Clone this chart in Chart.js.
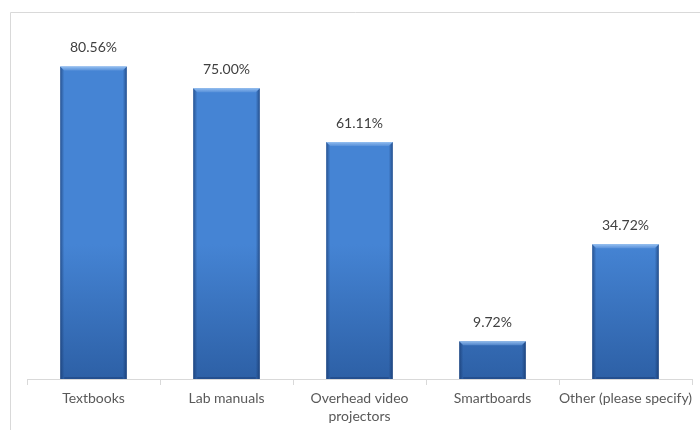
<!DOCTYPE html>
<html>
<head>
<meta charset="utf-8">
<script src="https://cdn.jsdelivr.net/npm/chart.js@4"></script>
<style>
  html, body { margin: 0; padding: 0; background: #ffffff; }
  #wrap { width: 700px; height: 430px; position: relative; }
</style>
</head>
<body>
<div id="wrap"><canvas id="c"></canvas></div>
<script>
const categories = ["Textbooks", "Lab manuals", ["Overhead video", "projectors"], "Smartboards", "Other (please specify)"];
const values = [80.56, 75.00, 61.11, 9.72, 34.72];
const valueLabels = ["80.56%", "75.00%", "61.11%", "9.72%", "34.72%"];

const FONT = "Lato, 'Open Sans', sans-serif";

const framePlugin = {
  id: 'frame',
  beforeDraw(chart) {
    const ctx = chart.ctx;
    ctx.save();
    ctx.strokeStyle = '#d9d9d9';
    ctx.lineWidth = 1;
    ctx.beginPath();
    ctx.moveTo(10.5, 430);
    ctx.lineTo(10.5, 12.5);
    ctx.lineTo(700, 12.5);
    ctx.stroke();
    ctx.restore();
  }
};

const barStylePlugin = {
  id: 'barStyle',
  beforeDatasetsDraw(chart) {
    const ctx = chart.ctx;
    const meta = chart.getDatasetMeta(0);
    meta.data.forEach(el => {
      const g = ctx.createLinearGradient(0, el.y, 0, el.base);
      g.addColorStop(0, '#4584d4');
      g.addColorStop(1, '#2d60a6');
      el.options.backgroundColor = g;
    });
  },
  afterDatasetsDraw(chart) {
    const ctx = chart.ctx;
    const meta = chart.getDatasetMeta(0);
    ctx.save();
    meta.data.forEach((el, i) => {
      const l = el.x - el.width / 2, r = el.x + el.width / 2;
      const t = el.y, b = el.base;
      const bv = 4;
      let g = ctx.createLinearGradient(l, 0, l + bv, 0);
      g.addColorStop(0, 'rgba(20,50,100,0.6)');
      g.addColorStop(1, 'rgba(20,50,100,0)');
      ctx.fillStyle = g;
      ctx.beginPath();
      ctx.moveTo(l, t); ctx.lineTo(l + bv, t + bv); ctx.lineTo(l + bv, b); ctx.lineTo(l, b); ctx.closePath();
      ctx.fill();
      g = ctx.createLinearGradient(r, 0, r - bv, 0);
      g.addColorStop(0, 'rgba(20,50,100,0.65)');
      g.addColorStop(1, 'rgba(20,50,100,0)');
      ctx.fillStyle = g;
      ctx.beginPath();
      ctx.moveTo(r, t); ctx.lineTo(r - bv, t + bv); ctx.lineTo(r - bv, b); ctx.lineTo(r, b); ctx.closePath();
      ctx.fill();
      g = ctx.createLinearGradient(0, t, 0, t + bv);
      g.addColorStop(0, 'rgba(160,200,245,0.9)');
      g.addColorStop(1, 'rgba(110,160,225,0.5)');
      ctx.fillStyle = g;
      ctx.beginPath();
      ctx.moveTo(l, t); ctx.lineTo(r, t); ctx.lineTo(r - bv, t + bv); ctx.lineTo(l + bv, t + bv); ctx.closePath();
      ctx.fill();
      ctx.fillStyle = 'rgba(20,50,100,0.35)';
      ctx.fillRect(l + bv, b - 2, el.width - 2 * bv, 2);
      ctx.fillStyle = '#404040';
      ctx.font = '14px ' + FONT;
      ctx.textAlign = 'center';
      ctx.textBaseline = 'middle';
      ctx.fillText(valueLabels[i], el.x, t - 19);
    });
    ctx.restore();
  }
};

new Chart(document.getElementById('c'), {
  type: 'bar',
  data: {
    labels: categories,
    datasets: [{
      data: values,
      backgroundColor: '#3c78c8',
      borderWidth: 0,
      categoryPercentage: 1.0,
      barPercentage: 0.5
    }]
  },
  options: {
    responsive: true,
    maintainAspectRatio: false,
    animation: false,
    events: [],
    layout: { padding: { left: 27, right: 8, top: 30, bottom: 0 } },
    plugins: { legend: { display: false }, tooltip: { enabled: false } },
    scales: {
      y: { display: false, min: 0, max: 90 },
      x: {
        offset: true,
        afterFit(s) { s.height = 51; },
        grid: { offset: true, drawOnChartArea: false, drawTicks: true, tickLength: 6, color: '#d9d9d9' },
        border: { display: true, color: '#d9d9d9' },
        ticks: { color: '#595959', font: { family: FONT, size: 14, lineHeight: 1.3 }, padding: 4, maxRotation: 0, autoSkip: false }
      }
    }
  },
  plugins: [framePlugin, barStylePlugin]
});
</script>
</body>
</html>
